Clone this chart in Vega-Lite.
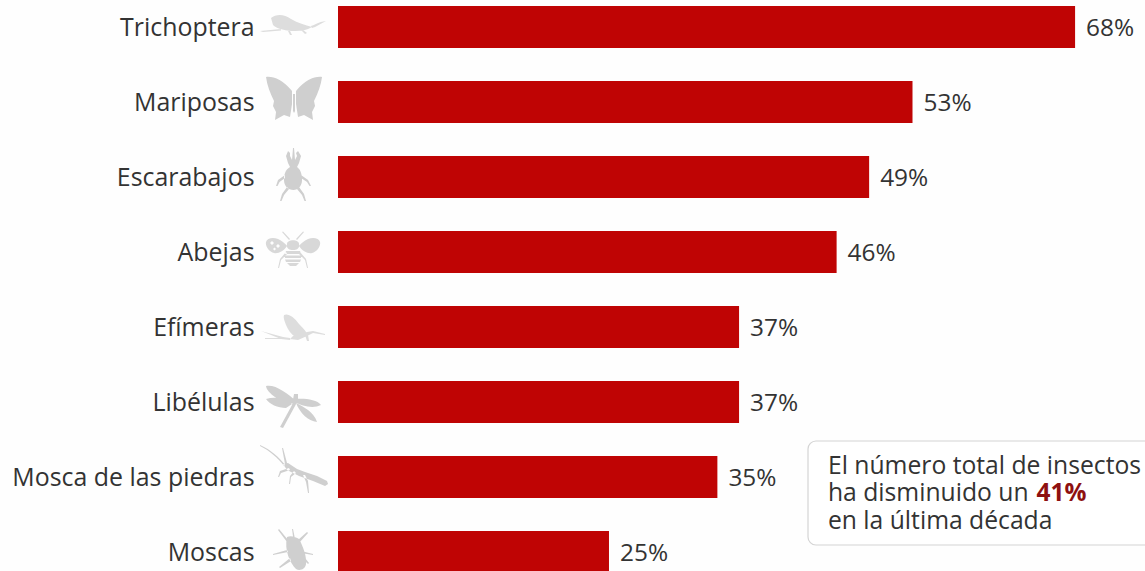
{
  "$schema": "https://vega.github.io/schema/vega-lite/v6.json",
  "width": 807,
  "height": 571,
  "autosize": "none",
  "padding": {"left": 338, "top": 0, "right": 0, "bottom": 0},
  "background": "#fefefe",
  "config": {"view": {"stroke": null}, "font": "Open Sans"},
  "data": {"values": [
    {"grupo": "Trichoptera", "caida": 0.68},
    {"grupo": "Mariposas", "caida": 0.53},
    {"grupo": "Escarabajos", "caida": 0.49},
    {"grupo": "Abejas", "caida": 0.46},
    {"grupo": "Efímeras", "caida": 0.37},
    {"grupo": "Libélulas", "caida": 0.37},
    {"grupo": "Mosca de las piedras", "caida": 0.35},
    {"grupo": "Moscas", "caida": 0.25}
  ]},
  "encoding": {
    "y": {
      "field": "grupo",
      "type": "nominal",
      "sort": null,
      "title": null,
      "scale": {"range": [-10.5, 589.5], "paddingInner": 0.44, "paddingOuter": 0.22},
      "axis": {"domain": false, "ticks": false, "labelPadding": 84, "labelOffset": 2, "labelFontSize": 24.9, "labelColor": "#333333", "labelFont": "Open Sans", "labelLimit": 320}
    }
  },
  "layer": [
    {
      "mark": {"type": "bar", "color": "#bf0404"},
      "encoding": {
        "x": {"field": "caida", "type": "quantitative", "title": null, "axis": null, "scale": {"domain": [0, 0.7445], "nice": false, "zero": false}}
      }
    },
    {
      "mark": {"type": "text", "align": "left", "dx": 11, "dy": 2, "fontSize": 24.4, "color": "#333333"},
      "encoding": {
        "x": {"field": "caida", "type": "quantitative"},
        "text": {"field": "caida", "type": "quantitative", "format": ".0%"}
      }
    },
    {
      "mark": {"type": "point", "filled": true, "size": 4, "opacity": 1},
      "encoding": {
        "x": {"datum": -0.0415},
        "fill": {
          "field": "grupo",
          "type": "nominal",
          "legend": null,
          "scale": {
            "domain": ["Trichoptera", "Mariposas", "Escarabajos", "Abejas", "Efímeras", "Libélulas", "Mosca de las piedras", "Moscas"],
            "range": ["#dddddd", "#cfcfcf", "#cfcfcf", "#d8d8d8", "#dddddd", "#cfcfcf", "#cfcfcf", "#cfcfcf"]
          }
        },
        "shape": {
          "field": "grupo",
          "type": "nominal",
          "legend": null,
          "scale": {
            "domain": ["Trichoptera", "Mariposas", "Escarabajos", "Abejas", "Efímeras", "Libélulas", "Mosca de las piedras", "Moscas"],
            "range": [
              "M-22,-9 C-17,-13 -9,-13 -2,-8 C5,-4 12,-2 19,0 C14,3 8,4 2,4 C-6,4 -16,2 -20,-2 Z M18,-1 C22,-2 25,-5 33,-6 C27,-3 23,0 19,1 Z M-33,4 L-12,2 L-12,3.5 L-30,5 Z M-5,4 L-3,4 L-1,8 L-3,8 Z M8,3 L10,3 L14,6 L12,7 Z",
              "M-27,-25 C-20,-26 -10,-22 -1,-11 L-1,2 L-3,15 L-9,13 L-18,18 L-17,10 L-20,4 L-19,-1 C-23,-9 -26,-17 -27,-25 Z M29,-25 C22,-26 12,-22 3,-11 L3,2 L5,15 L11,13 L20,18 L19,10 L22,4 L21,-1 C25,-9 28,-17 29,-25 Z M0,-8 L2,-8 L2,9 L1,11 L0,9 Z",
              "M0,-29 L1,-29 L2,-17 L4,-21 L3,-24 L5,-26 L8,-21 L6,-14 L4,-10 C8,-7 9,-2 9,3 C9,9 5,13 0.5,13 C-5,13 -9,9 -9,3 C-9,-2 -8,-7 -3,-10 L-5,-14 L-7,-21 L-5,-26 L-3,-24 L-3,-21 L-1,-17 Z M-8,-2 L-15,3 L-17,9 L-15.5,9 L-13.5,5 L-8,1 Z M8,-2 L15,3 L18,9 L16.5,9 L14,5 L8,1 Z M-6,10 L-11,17 L-13,24 L-11.5,24 L-9,18 L-4,12 Z M6,10 L11,17 L13,24 L11.5,24 L9,18 L4,12 Z",
              "M-6,-8 C-6,-13 6,-13 6,-8 C7,-4 4,-2 0,-2 C-4,-2 -7,-4 -6,-8 Z M-7,-1 L7,-1 L8,2 L-8,2 Z M-8,3.5 L8,3.5 L8,6 L-8,6 Z M-8,7.5 L8,7.5 L7,10 L-7,10 Z M-6,11 L6,11 L3,14 L-3,14 Z M-6,-6 C-9,-1 -15,2 -19,1 C-24,0 -28,-6 -27,-10 C-26,-14 -20,-15 -15,-13 C-11,-11 -8,-9 -6,-6 Z M-23,-9 L-21,-7 L-19,-9 L-21,-11 Z M-17,-6 L-15,-4 L-13,-6 L-15,-8 Z M-20,-3 L-18.5,-1.5 L-17,-3 L-18.5,-4.5 Z M6,-6 C9,-1 15,2 19,1 C24,0 28,-6 27,-10 C26,-14 20,-15 15,-13 C11,-11 8,-9 6,-6 Z M23,-9 L21,-11 L19,-9 L21,-7 Z M17,-6 L15,-8 L13,-6 L15,-4 Z M20,-3 L18.5,-4.5 L17,-3 L18.5,-1.5 Z M-4,-12 L-11,-20 L-10,-20.5 L-3,-13 Z M4,-12 L11,-20 L10,-20.5 L3,-13 Z M-7,0 L-13,7 L-15,16 L-14,16 L-12,8 L-6,2 Z M7,0 L13,7 L15,16 L14,16 L12,8 L6,2 Z",
              "M-9,-12 C-5,-14 1,-10 6,-3 C9,0 13,4 14,7 C10,9 6,11 2,10 C-2,7 -5,3 -7,-2 C-8,-5 -10,-9 -9,-12 Z M0,9 L14,5 L20,4 L32,7 L32,8 L20,6 L14,9 L5,13 L-3,12 Z M-32,4 L-10,10 L-3,11 L-3,13 L-12,12 Z M-28,11 L-8,11 L-8,12 L-28,12 Z M12,8 L15,8 L16,14 L14,14 Z",
              "M-27,-16 C-18,-18 -6,-9 3,-1 L-3,2 C-12,-1 -26,-8 -27,-16 Z M2,-3 C10,-4 24,-3 28,3 C20,7 9,4 2,0 Z M-27,-3 C-17,-6 -8,-3 -1,2 L-7,6 C-15,6 -24,2 -27,-3 Z M3,1 C11,5 21,10 24,20 C15,19 7,11 3,1 Z M1,-8 L5,-8 L5,-2 L2,4 L-10,26 L-13,25 L-1,3 Z",
              "M-10,-13 L-5,-14 L4,-8 L12,-5 L24,-1 L34,4 L35,7 L32,9 L20,4 L6,-1 L-6,-7 Z M-8,-12 C-14,-20 -22,-27 -33,-32 L-33,-31 C-23,-26 -15,-19 -9,-11 Z M-8,-13 L-11,-29 L-10,-29 L-6,-14 Z M-4,-9 L-13,-6 L-15,0 L-14,0 L-12,-4 L-3,-7 Z M1,-6 L-3,-1 L-4,7 L-3,7 L-2,0 L3,-4 Z M10,-2 L13,5 L15,16 L16,16 L15,4 L12,-2 Z",
              "M-6,-15 C-2,-17 3,-15 6,-13 C10,-6 14,5 13,12 C12,18 6,19 3,17 C-3,11 -9,-2 -6,-15 Z M-14,-23 L-5,-12 L-6,-10 L-15,-22 Z M1,-8 L-1,-23 L0,-23 L3,-8 Z M5,-12 L14,-20 L15,-19 L6,-9 Z M-6,-2 L-20,2 L-20,3 L-5,0 Z M8,-1 L20,2 L20,3 L8,1 Z M-3,6 L-14,15 L-13,16 L-2,9 Z M12,6 L16,11 L15,12 L11,8 Z"
            ]
          }
        }
      }
    },
    {
      "data": {"values": [{"nota": "caja"}]},
      "mark": {"type": "bar", "fill": "#ffffff", "stroke": "#d4d4d4", "strokeWidth": 1.2, "cornerRadius": 8, "height": 104, "yOffset": 16},
      "encoding": {
        "x": {"datum": 0.4336},
        "x2": {"datum": 0.76},
        "y": {"datum": "Mosca de las piedras"}
      }
    },
    {
      "data": {"values": [{"nota": "El número total de insectos"}]},
      "mark": {"type": "text", "align": "left", "baseline": "middle", "fontSize": 24.7, "color": "#333333", "dy": -10},
      "encoding": {
        "x": {"datum": 0.452},
        "y": {"datum": "Mosca de las piedras"},
        "text": {"field": "nota"}
      }
    },
    {
      "data": {"values": [{"nota": "ha disminuido un"}]},
      "mark": {"type": "text", "align": "left", "baseline": "middle", "fontSize": 24.7, "color": "#333333", "dy": 17},
      "encoding": {
        "x": {"datum": 0.452},
        "y": {"datum": "Mosca de las piedras"},
        "text": {"field": "nota"}
      }
    },
    {
      "data": {"values": [{"nota": "en la última década"}]},
      "mark": {"type": "text", "align": "left", "baseline": "middle", "fontSize": 24.7, "color": "#333333", "dy": 45},
      "encoding": {
        "x": {"datum": 0.452},
        "y": {"datum": "Mosca de las piedras"},
        "text": {"field": "nota"}
      }
    },
    {
      "data": {"values": [{"total": 0.41}]},
      "mark": {"type": "text", "align": "left", "baseline": "middle", "fontSize": 24.4, "fontWeight": "bold", "color": "#8e1010", "dy": 17},
      "encoding": {
        "x": {"datum": 0.6445},
        "y": {"datum": "Mosca de las piedras"},
        "text": {"field": "total", "type": "quantitative", "format": ".0%"}
      }
    }
  ]
}
